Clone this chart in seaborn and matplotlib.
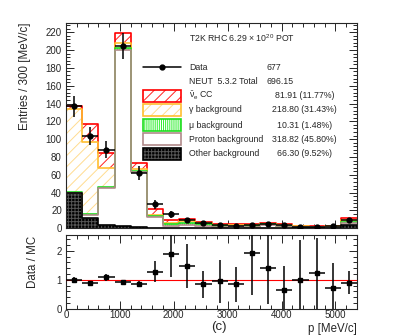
import numpy as np
import pandas as pd
import matplotlib
matplotlib.use('Agg')
import matplotlib.pyplot as plt
from matplotlib.patches import Rectangle
from matplotlib.ticker import MultipleLocator
import seaborn as sns

# 300 MeV/c bins from 0 to 5400
edges = list(range(0, 5401, 300))
centers = [e + 150 for e in edges[:-1]]

# MC components per bin (bottom of stack first)
other = [39.5, 11.0, 3.4, 2.5, 1.0, 0.5, 0.5, 0.7, 0.6, 0.3, 0.3, 0.3, 0.6, 0.3, 0.2, 0.2, 0.2, 4.0]
proton = [0.3, 4.0, 42.0, 197.8, 62.0, 12.2, 2.5, 3.3, 2.4, 1.6, 1.8, 1.6, 2.8, 1.8, 1.0, 0.8, 0.9, 1.8]
mu = [1.0, 1.4, 0.9, 1.5, 1.0, 1.1, 1.5, 1.8, 1.5, 1.2, 1.0, 0.8, 0.9, 1.0, 0.6, 0.4, 0.5, 1.3]
gamma = [92.7, 80.4, 21.7, 6.0, 2.5, 1.5, 1.9, 2.2, 1.6, 1.0, 0.9, 0.9, 0.8, 0.9, 0.6, 0.4, 0.5, 2.6]
nue = [4.0, 20.5, 16.0, 11.2, 6.7, 6.4, 2.6, 2.5, 1.4, 0.8, 0.9, 0.9, 0.9, 0.9, 0.6, 0.4, 0.5, 1.9]

data = [136.8, 103.5, 88.2, 204.4, 62.0, 26.9, 15.7, 9.0, 6.0, 3.7, 3.0, 4.1, 5.2, 3.4, 1.9, 1.9, 3.0, 9.0]
data_err = [11.7, 10.2, 9.4, 14.3, 7.9, 5.2, 4.0, 3.0, 2.4, 1.9, 1.7, 2.0, 2.3, 1.8, 1.4, 1.4, 1.7, 3.0]

ratio = [1.00, 0.89, 1.08, 0.92, 0.87, 1.28, 1.90, 1.48, 0.84, 0.95, 0.84, 1.93, 1.41, 0.66, 0.98, 1.22, 0.70, 0.90]
ratio_err = [0.10, 0.08, 0.12, 0.06, 0.10, 0.37, 0.82, 0.76, 0.46, 0.75, 0.62, 1.46, 1.25, 0.81, 1.39, 1.24, 0.89, 0.40]

leg_names = [r'$\bar{\nu}_e$ CC', 'γ background', 'μ background', 'Proton background', 'Other background']
leg_values = ['81.91 (11.77%)', '218.80 (31.43%)', '10.31 (1.48%)', '318.82 (45.80%)', '66.30 (9.52%)']

sns.set_theme(style='ticks')
plt.rcParams['font.family'] = ['Liberation Sans', 'DejaVu Sans']
plt.rcParams['mathtext.fontset'] = 'custom'
plt.rcParams['mathtext.rm'] = 'Liberation Sans'
plt.rcParams['mathtext.it'] = 'Liberation Sans'
plt.rcParams['hatch.linewidth'] = 0.7

W, H = 411, 336
fig = plt.figure(figsize=(W / 100, H / 100), dpi=100)
ax = fig.add_axes([66 / W, 1 - 228.3 / H, 291 / W, 205 / H])
axr = fig.add_axes([66 / W, 1 - 308.7 / H, 291 / W, 73.7 / H])


def px(x, y):
    return x / W, 1 - y / H


# styles from top of stack to bottom: face, hatch, hatch colour, line colour
styles = [
    ('white', '///', '#ff2020', '#ff0000'),
    ('white', '///', '#ffdc90', '#ffbf30'),
    ('white', '||||||||', '#30ee30', '#20dd20'),
    ('white', None, 'white', '#b08a8a'),
    ('black', '+++++', '#555555', 'black'),
]
layers = [other, proton, mu, gamma, nue]
cum = np.cumsum(np.array(layers), axis=0)[::-1]

for heights, (face, hatch, hcol, lcol) in zip(cum, styles):
    df = pd.DataFrame({'p': centers, 'n': heights})
    sns.histplot(data=df, x='p', weights='n', bins=edges, element='step', fill=True,
                 facecolor=face, edgecolor=hcol, hatch=hatch, linewidth=0, alpha=1, ax=ax)
    sns.histplot(data=df, x='p', weights='n', bins=edges, element='step', fill=False,
                 color=lcol, linewidth=1.2, ax=ax)

ax.errorbar(centers, data, xerr=150, yerr=data_err, fmt='o', color='black',
            ms=3.5, elinewidth=1.1, capsize=0, zorder=5)

axr.errorbar(centers, ratio, xerr=150, yerr=ratio_err, fmt='s', color='black',
             ms=3.5, elinewidth=1.1, capsize=0, zorder=5)
axr.axhline(1, color='red', lw=0.8, zorder=3)

for a in (ax, axr):
    a.set_xlim(0, 5400)
    a.xaxis.set_major_locator(MultipleLocator(1000))
    a.xaxis.set_minor_locator(MultipleLocator(200))
    a.tick_params(which='both', direction='in', top=True, right=True, labelsize=7,
                  width=0.7, pad=3)
    a.tick_params(which='major', length=6)
    a.tick_params(which='minor', length=3)
    a.set_xlabel('')
    a.set_ylabel('')
    for s in a.spines.values():
        s.set_linewidth(0.8)

ax.set_ylim(0, 230)
ax.yaxis.set_major_locator(MultipleLocator(20))
ax.yaxis.set_minor_locator(MultipleLocator(4))
ax.tick_params(labelbottom=False)

axr.set_ylim(0, 2.55)
axr.yaxis.set_major_locator(MultipleLocator(1))
axr.yaxis.set_minor_locator(MultipleLocator(0.2))
axr.tick_params(axis='x', which='both', pad=0.8)

fig.text(*px(25, 22), 'Entries / 300 [MeV/c]', rotation=90, ha='center', va='top', fontsize=8.3)
fig.text(*px(33, 236), 'Data / MC', rotation=90, ha='center', va='top', fontsize=8.3)
fig.text(*px(357, 329), 'p [MeV/c]', ha='right', va='center', fontsize=8.3)
fig.text(*px(219, 327), '(c)', ha='center', va='center', fontsize=9.5)

# legend block
fig.text(*px(189, 38), r'T2K RHC 6.29 × 10$^{20}$ POT', ha='left', va='center', fontsize=6.3)
ax.plot([143 / W, 181 / W], [1 - 67 / H] * 2, color='black', lw=1.1,
        transform=fig.transFigure, clip_on=False)
ax.plot([162 / W], [1 - 67 / H], 'o', color='black', ms=3.5,
        transform=fig.transFigure, clip_on=False)
fig.text(*px(189, 67), 'Data', ha='left', va='center', fontsize=6.3)
fig.text(*px(266, 67), '677', ha='left', va='center', fontsize=6.3)
fig.text(*px(189, 82), 'NEUT  5.3.2 Total', ha='left', va='center', fontsize=6.3)
fig.text(*px(266, 82), '696.15', ha='left', va='center', fontsize=6.3)

rows = [96, 110, 125, 139, 154]
for y, name, val, (face, hatch, hcol, lcol) in zip(rows, leg_names, leg_values, styles):
    x0, y0 = px(143, y + 5.8)
    w, h = 38 / W, 11.6 / H
    ax.add_patch(Rectangle((x0, y0), w, h, transform=fig.transFigure, clip_on=False,
                           facecolor=face, edgecolor=hcol, hatch=hatch, lw=0))
    ax.add_patch(Rectangle((x0, y0), w, h, transform=fig.transFigure, clip_on=False,
                           facecolor='none', edgecolor=lcol, lw=1.2))
    fig.text(*px(189, y), name, ha='left', va='center', fontsize=6.3)
    fig.text(*px(304.5, y), val, ha='center', va='center', fontsize=6.3)

fig.savefig('out.png', dpi=100)
